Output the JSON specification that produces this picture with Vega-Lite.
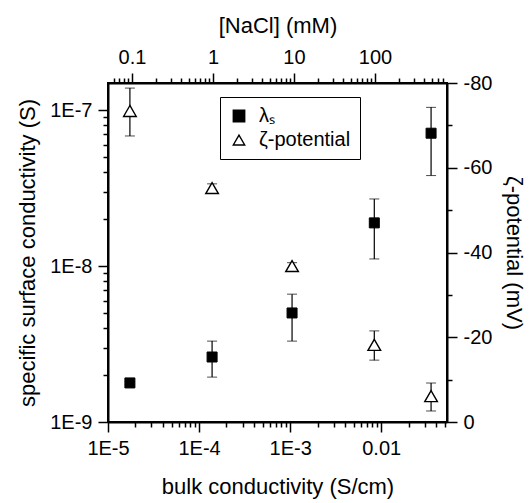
{
  "$schema": "https://vega.github.io/schema/vega-lite/v6.json",
  "width": 339,
  "height": 339,
  "autosize": {"type": "none"},
  "padding": {"left": 108, "top": 83, "right": 84, "bottom": 81},
  "background": "white",
  "config": {
    "font": "Liberation Sans",
    "view": {"stroke": "black", "strokeWidth": 2},
    "axis": {
      "grid": false,
      "domainColor": "black",
      "domainWidth": 2,
      "tickColor": "black",
      "tickWidth": 1.5,
      "labelFont": "Liberation Sans",
      "labelFontSize": 20,
      "labelColor": "black",
      "titleFont": "Liberation Sans",
      "titleFontSize": 22,
      "titleFontWeight": "normal",
      "titleColor": "black",
      "labelPadding": 6,
      "labelOverlap": false,
      "labelFlush": false
    },
    "legend": {
      "labelFont": "Liberation Sans",
      "labelFontSize": 20,
      "labelColor": "black"
    }
  },
  "datasets": {
    "lam": [
      {"series": "λₛ", "bulk": 1.74e-5, "v": 1.78e-9, "lo": 1.74e-9, "hi": 1.82e-9},
      {"series": "λₛ", "bulk": 1.39e-4, "v": 2.61e-9, "lo": 1.94e-9, "hi": 3.3e-9},
      {"series": "λₛ", "bulk": 1.05e-3, "v": 5.0e-9, "lo": 3.3e-9, "hi": 6.6e-9},
      {"series": "λₛ", "bulk": 8.4e-3, "v": 1.89e-8, "lo": 1.11e-8, "hi": 2.69e-8},
      {"series": "λₛ", "bulk": 0.0353, "v": 7.1e-8, "lo": 3.8e-8, "hi": 1.04e-7}
    ],
    "zeta": [
      {"series": "ζ-potential", "bulk": 1.74e-5, "v": -73.4, "lo": -67.5, "hi": -78.8},
      {"series": "ζ-potential", "bulk": 1.39e-4, "v": -55.2, "lo": -54.2, "hi": -56.2},
      {"series": "ζ-potential", "bulk": 1.05e-3, "v": -36.8, "lo": -36.0, "hi": -37.6},
      {"series": "ζ-potential", "bulk": 8.4e-3, "v": -18.2, "lo": -14.6, "hi": -21.5},
      {"series": "ζ-potential", "bulk": 0.0353, "v": -6.1, "lo": -2.6, "hi": -9.2}
    ],
    "nacl": [
      {"mM": 0.1}, {"mM": 1}, {"mM": 10}, {"mM": 100}, {"mM": 500}
    ]
  },
  "layer": [
    {
      "layer": [
        {
          "data": {"name": "lam"},
          "encoding": {
            "x": {
              "field": "bulk", "type": "quantitative",
              "scale": {"type": "log", "domain": [1e-5, 0.0528], "nice": false},
              "axis": {
                "orient": "bottom",
                "title": "bulk conductivity (S/cm)",
                "titlePadding": 18,
                "values": [1e-5,2e-5,3e-5,4e-5,5e-5,6e-5,7e-5,8e-5,9e-5,1e-4,2e-4,3e-4,4e-4,5e-4,6e-4,7e-4,8e-4,9e-4,1e-3,2e-3,3e-3,4e-3,5e-3,6e-3,7e-3,8e-3,9e-3,0.01,0.02,0.03,0.04,0.05],
                "labelExpr": "abs(log(datum.value)/LN10 - round(log(datum.value)/LN10)) < 0.01 ? (datum.value > 0.005 ? '0.01' : '1E' + round(log(datum.value)/LN10)) : ''",
                "tickSize": {"condition": {"test": "abs(log(datum.value)/LN10 - round(log(datum.value)/LN10)) < 0.01", "value": 10}, "value": 5}
              }
            }
          },
          "layer": [
            {
              "mark": {"type": "errorbar", "ticks": {"size": 10, "color": "black"}, "rule": {"color": "black", "strokeWidth": 1.2}},
              "encoding": {
                "y": {"field": "lo", "type": "quantitative", "title": "specific surface conductivity (S)", "scale": {"type": "log", "domain": [1e-9, 1.49e-7], "nice": false}},
                "y2": {"field": "hi"}
              }
            },
            {
              "mark": {"type": "point", "filled": true, "strokeWidth": 1, "size": 100, "opacity": 1},
              "encoding": {
                "y": {
                  "field": "v", "type": "quantitative",
                  "scale": {"type": "log", "domain": [1e-9, 1.49e-7], "nice": false},
                  "axis": {
                    "orient": "left",
                    "title": "specific surface conductivity (S)",
                    "titlePadding": 10,
                    "values": [1e-9,2e-9,3e-9,4e-9,5e-9,6e-9,7e-9,8e-9,9e-9,1e-8,2e-8,3e-8,4e-8,5e-8,6e-8,7e-8,8e-8,9e-8,1e-7],
                    "labelExpr": "abs(log(datum.value)/LN10 - round(log(datum.value)/LN10)) < 0.01 ? '1E' + round(log(datum.value)/LN10) : ''",
                    "tickSize": {"condition": {"test": "abs(log(datum.value)/LN10 - round(log(datum.value)/LN10)) < 0.01", "value": 10}, "value": 5}
                  }
                },
                "shape": {"field": "series", "type": "nominal", "scale": {"domain": ["λₛ", "ζ-potential"], "range": ["square", "triangle-up"]}, "legend": {"title": null, "orient": "none", "legendX": 112, "legendY": 14, "strokeColor": "black", "fillColor": "white", "padding": 9, "symbolSize": 130, "symbolStrokeWidth": 1.4, "labelOffset": 10, "rowPadding": 4}},
                "fill": {"field": "series", "type": "nominal", "scale": {"domain": ["λₛ", "ζ-potential"], "range": ["black", "white"]}, "legend": {"title": null, "orient": "none", "legendX": 112, "legendY": 14, "strokeColor": "black", "fillColor": "white", "padding": 9, "symbolSize": 130, "symbolStrokeWidth": 1.4, "labelOffset": 10, "rowPadding": 4}},
                "stroke": {"field": "series", "type": "nominal", "scale": {"domain": ["λₛ", "ζ-potential"], "range": ["black", "black"]}, "legend": {"title": null, "orient": "none", "legendX": 112, "legendY": 14, "strokeColor": "black", "fillColor": "white", "padding": 9, "symbolSize": 130, "symbolStrokeWidth": 1.4, "labelOffset": 10, "rowPadding": 4}}
              }
            }
          ]
        },
        {
          "data": {"name": "zeta"},
          "encoding": {
            "x": {"field": "bulk", "type": "quantitative", "scale": {"type": "log", "domain": [1e-5, 0.0528], "nice": false}}
          },
          "layer": [
            {
              "mark": {"type": "errorbar", "ticks": {"size": 10, "color": "black"}, "rule": {"color": "black", "strokeWidth": 1.2}},
              "encoding": {
                "y": {"field": "lo", "type": "quantitative", "title": "ζ-potential (mV)", "scale": {"domain": [-80, 0], "reverse": true, "nice": false, "zero": false}},
                "y2": {"field": "hi"}
              }
            },
            {
              "mark": {"type": "point", "filled": true, "strokeWidth": 1.4, "size": 160, "opacity": 1},
              "encoding": {
                "y": {
                  "field": "v", "type": "quantitative",
                  "scale": {"domain": [-80, 0], "reverse": true, "nice": false, "zero": false},
                  "axis": {
                    "orient": "right",
                    "title": "ζ-potential (mV)",
                    "titlePadding": 10,
                    "values": [-80,-70,-60,-50,-40,-30,-20,-10,0],
                    "labelExpr": "datum.value % 20 == 0 ? toString(datum.value) : ''",
                    "tickSize": {"condition": {"test": "datum.value % 20 == 0", "value": 10}, "value": 5}
                  }
                },
                "shape": {"field": "series", "type": "nominal", "scale": {"domain": ["λₛ", "ζ-potential"], "range": ["square", "triangle-up"]}},
                "fill": {"field": "series", "type": "nominal", "scale": {"domain": ["λₛ", "ζ-potential"], "range": ["black", "white"]}},
                "stroke": {"field": "series", "type": "nominal", "scale": {"domain": ["λₛ", "ζ-potential"], "range": ["black", "black"]}}
              }
            }
          ]
        }
      ],
      "resolve": {"scale": {"y": "independent"}}
    },
    {
      "data": {"name": "nacl"},
      "mark": {"type": "point", "opacity": 0},
      "encoding": {
        "x": {
          "field": "mM", "type": "quantitative",
          "scale": {"type": "log", "domain": [0.0506, 774], "nice": false},
          "axis": {
            "orient": "top",
            "title": "[NaCl] (mM)",
            "titlePadding": 10,
            "values": [0.06,0.07,0.08,0.09,0.1,0.2,0.3,0.4,0.5,0.6,0.7,0.8,0.9,1,2,3,4,5,6,7,8,9,10,20,30,40,50,60,70,80,90,100,200,300,400,500,600,700],
            "labelExpr": "abs(log(datum.value)/LN10 - round(log(datum.value)/LN10)) < 0.01 ? toString(datum.value) : ''",
            "tickSize": {"condition": {"test": "abs(log(datum.value)/LN10 - round(log(datum.value)/LN10)) < 0.01", "value": 10}, "value": 5}
          }
        }
      }
    }
  ],
  "resolve": {"scale": {"x": "independent"}}
}
